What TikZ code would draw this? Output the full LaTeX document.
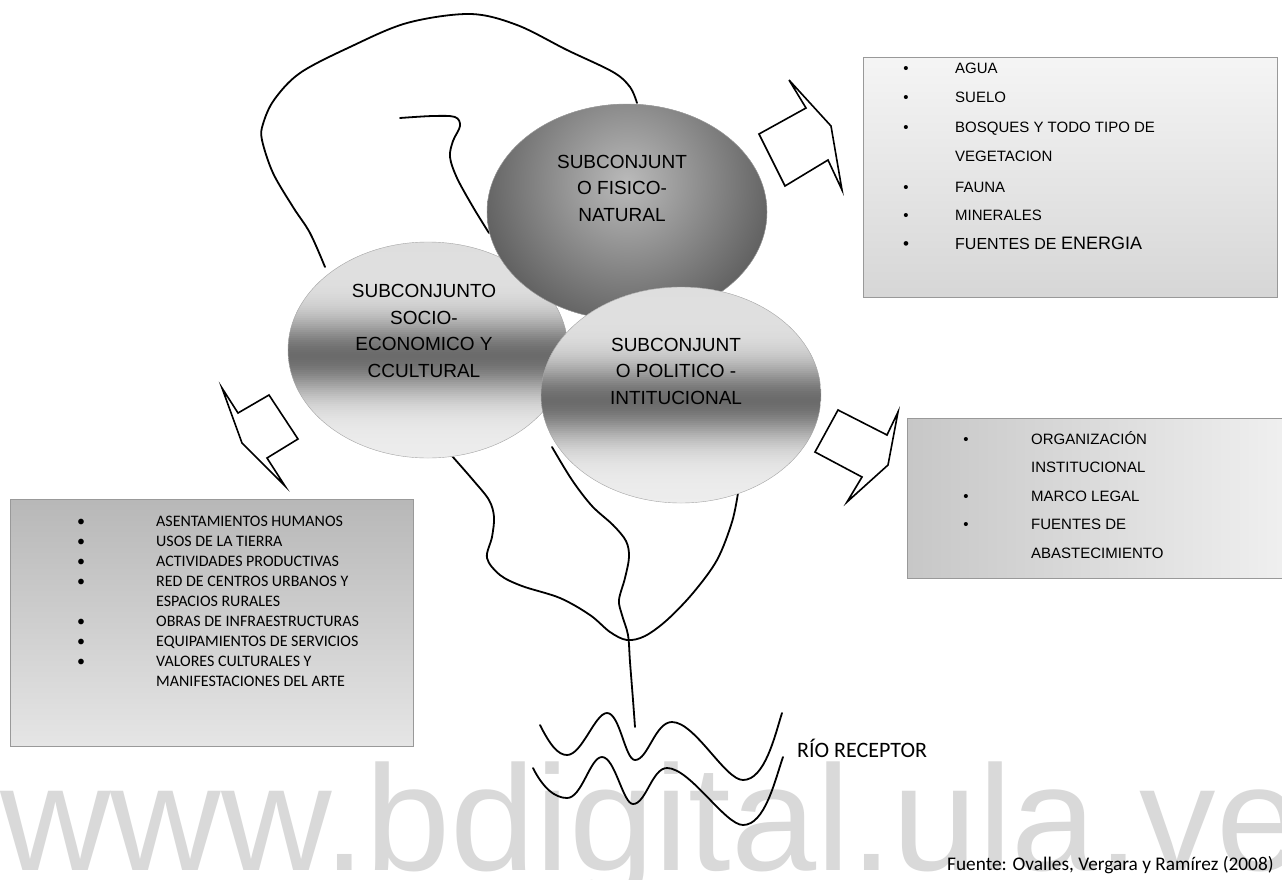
\documentclass[tikz,border=0pt]{standalone}
\usepackage{fontspec}
\setmainfont{Liberation Sans}
\newfontfamily\calib{Carlito}
\usetikzlibrary{shapes.geometric}
\begin{document}
\begin{tikzpicture}[x=1pt,y=-1pt]
\tikzset{
  wline/.style={line width=1.8pt, line cap=round, line join=round},
  barrow/.style={draw, line width=1.6pt, fill=white, line join=miter},
  venn/.style={ellipse, minimum width=280pt, minimum height=216pt, draw=black!35, line width=0.4pt, inner sep=0},
  bandfill/.style={path picture={
     \foreach \k in {0,...,109}{
       \pgfmathsetmacro\tt{(\k+0.5)/110}
       \pgfmathsetmacro\cc{7+6*(1-\tt)+48*exp(-((\tt-0.52)/0.17)^2)}
       \fill[black!\cc] ([yshift=-\k*2pt]path picture bounding box.north west) rectangle ([yshift=-\k*2pt-2.8pt]path picture bounding box.north east);
     }}},
  venntxt/.style={align=center, inner sep=0, font=\fontsize{19}{26.5}\selectfont},
  listbox/.style={draw=black!40, line width=0.8pt, inner sep=0, anchor=north west},
  atxt/.style={inner sep=0, anchor=base west, font=\fontsize{15}{18}\selectfont},
  abul/.style={inner sep=0, anchor=base, font=\fontsize{15}{18}\selectfont},
  ctxt/.style={inner sep=0, anchor=base west, font=\calib\fontsize{16}{18}\selectfont},
  cbul/.style={inner sep=0, anchor=base, font=\calib\fontsize{16}{18}\selectfont},
}
\useasboundingbox (0,0) rectangle (1282,879);
\fill[white] (0,0) rectangle (1282,879);

% watermark
\node[anchor=base west, inner sep=0, text=black!15, font=\fontsize{150}{150}\selectfont, xscale=1.02] (wm) at (0,870) {www.bdigital.ula.ve};

% list boxes
\node[listbox, minimum width=414pt, minimum height=240pt, top color=black!4, bottom color=black!16] (natbox) at (863,57) {};
\node[listbox, minimum width=380pt, minimum height=160pt, left color=black!22, right color=black!6] (polbox) at (907,418) {};
\node[listbox, minimum width=403pt, minimum height=247pt, top color=black!28, bottom color=black!10] (socbox) at (10,499) {};

% natural box items
\foreach \y [count=\i] in {73,102,132,192,220}{
  \node[abul] (nb\i) at (906,\y) {•};
}
\node[abul, font=\fontsize{17}{18}\selectfont] (nb6) at (906,249) {•};
\foreach \y/\t [count=\i] in {73/AGUA,102/SUELO,132/BOSQUES Y TODO TIPO DE,161/VEGETACION,192/FAUNA,220/MINERALES}{
  \node[atxt] (nt\i) at (955,\y) {\t};
}
\node[atxt] (nt7) at (955,249) {\fontsize{16}{18}\selectfont FUENTES DE \fontsize{18}{18}\selectfont ENERGIA};

% politico box items
\foreach \y [count=\i] in {444,501,529}{
  \node[abul] (pb\i) at (966,\y) {•};
}
\foreach \y/\t [count=\i] in {444/ORGANIZACIÓN,472/INSTITUCIONAL,501/MARCO LEGAL,529/FUENTES DE,558/ABASTECIMIENTO}{
  \node[atxt] (pt\i) at (1031,\y) {\t};
}

% socio box items
\foreach \y [count=\i] in {526,546,566,586,626,646,666}{
  \node[cbul] (sb\i) at (81,\y) {•};
}
\foreach \y/\t [count=\i] in {526/ASENTAMIENTOS HUMANOS,546/USOS DE LA TIERRA,566/ACTIVIDADES PRODUCTIVAS,586/RED DE CENTROS URBANOS Y,606/ESPACIOS RURALES,626/OBRAS DE INFRAESTRUCTURAS,646/EQUIPAMIENTOS DE SERVICIOS,666/VALORES CULTURALES Y,686/MANIFESTACIONES DEL ARTE}{
  \node[ctxt] (st\i) at (156,\y) {\t};
}

% watershed lines
\coordinate (l1s) at (325,267);
\coordinate (l1e) at (637,103);
\draw[wline] plot[smooth, tension=0.55] coordinates {(l1s) (310,233) (293,207) (273,173) (262,140) (263,124) (274,100) (300,73) (350,47) (407,23) (470,14) (517,25) (567,50) (613,72) (630,87) (l1e)};
\coordinate (l2s) at (400,118);
\coordinate (l2e) at (489,233);
\draw[wline] plot[smooth, tension=0.55] coordinates {(l2s) (433,116) (455,117) (460,126) (453,141) (450,157) (457,178) (473,207) (l2e)};
\coordinate (l3s) at (452,456);
\coordinate (l3e) at (738,493);
\coordinate (junc) at (627,640);
\draw[wline] plot[smooth, tension=0.55] coordinates {(l3s) (473,480) (489,500) (494,517) (492,537) (487,558) (500,575) (522,586) (560,598) (590,615) (610,632) (junc) (645,636) (667,620) (693,593) (717,560) (732,522) (l3e)};
\coordinate (l4s) at (552,447);
\coordinate (l4e) at (635,727);
\draw[wline] plot[smooth, tension=0.55] coordinates {(l4s) (572,480) (592,506) (613,525) (626,541) (629,557) (625,578) (619,600) (622,615) (628,635) (630,662) (633,700) (l4e)};

% river
\draw[wline] (540,725) .. controls (550,745) and (558,755) .. (567,755) .. controls (582,755) and (595,713) .. (607,713) .. controls (620,713) and (625,760) .. (635,760) .. controls (648,760) and (655,722) .. (672,722) .. controls (695,722) and (725,780) .. (743,780) .. controls (765,780) and (775,735) .. (782,713);
\draw[wline] (533,768) .. controls (543,788) and (555,798) .. (567,798) .. controls (582,798) and (590,757) .. (602,757) .. controls (615,757) and (623,804) .. (633,804) .. controls (646,804) and (652,768) .. (667,768) .. controls (690,768) and (725,825) .. (743,825) .. controls (765,825) and (775,780) .. (783,757);
\node[inner sep=0, anchor=base west, font=\calib\fontsize{22}{24}\selectfont] (rio) at (797,757) {RÍO RECEPTOR};

% ellipses
\node[venn, bandfill] (soc) at (428,350) {};
\node[venn, fill=black!62, path picture={\shade[inner color=black!27, outer color=black!66] (path picture bounding box.center) ++(0,-30) circle[radius=165pt];}] (nat) at (627,212) {};
\node[venn, bandfill] (pol) at (681,395) {};
\node[venntxt] (socT) at (424,331) {SUBCONJUNTO\\SOCIO-\\ECONOMICO Y\\CCULTURAL};
\node[venntxt] (natT) at (622,188) {SUBCONJUNT\\O FISICO-\\NATURAL};
\node[venntxt] (polT) at (676,371) {SUBCONJUNT\\O POLITICO -\\INTITUCIONAL};

% block arrows
\draw[barrow] (759,134) -- (806,108) -- (789,80) -- (831,126) -- (842,190) -- (828,160) -- (785,186) -- cycle;
\draw[barrow] (222,388) -- (238,413) -- (269,395) -- (298,439) -- (267,458) -- (285,486) -- (242,443) -- cycle;
\draw[barrow] (815,452) -- (838,410) -- (887,435) -- (898,412) -- (888,465) -- (847,502) -- (862,477) -- cycle;

% source
\node[inner sep=0, anchor=base west, font=\calib\fontsize{19.3}{22}\selectfont] (src) at (947,870) {Fuente: Ovalles, Vergara y Ramírez (2008)};
\end{tikzpicture}
\end{document}
